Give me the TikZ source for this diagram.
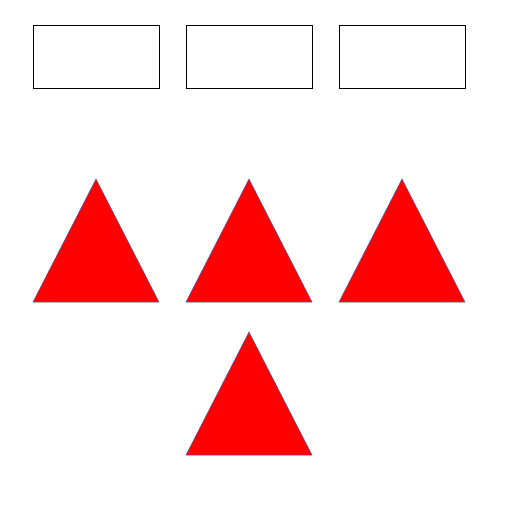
\documentclass[tikz,border=0pt]{standalone}
\usetikzlibrary{positioning}
\definecolor{triedge}{RGB}{70,100,180}
\begin{document}
\begin{tikzpicture}[
  x=1pt, y=-1pt,
  box/.style={
    draw,
    line width=0.8pt,
    minimum width=126pt,
    minimum height=63pt,
    inner sep=0pt
  },
  tri/.style={
    fill=red,
    draw=triedge,
    line width=0.5pt
  }
]
\useasboundingbox (0,0) rectangle (512,512);
\node[box] (boxA) at (96,56.5) {};
\node[box] (boxB) at (249,56.5) {};
\node[box] (boxC) at (402,56.5) {};
% triangles
\foreach \cx/\ty in {96/179, 249/179, 402/179, 249/332} {
  \draw[tri] (\cx,\ty) -- (\cx+63,\ty+123) -- (\cx-63,\ty+123) -- cycle;
}
\end{tikzpicture}
\end{document}
